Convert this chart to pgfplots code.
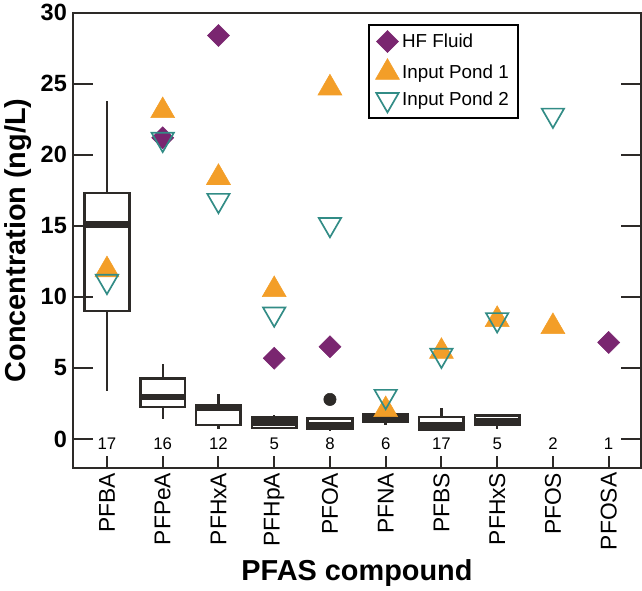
\documentclass[border=0pt]{standalone}
\usepackage{pgfplots}
\pgfplotsset{compat=1.18}
\usepgfplotslibrary{statistics}
\usepackage{pgfplotstable}
\usepackage{fontspec}
\setmainfont{Liberation Sans}

\definecolor{hf}{RGB}{122,38,112}
\definecolor{pondA}{RGB}{243,158,40}
\definecolor{pondB}{RGB}{50,140,134}
\definecolor{boxc}{RGB}{45,42,40}

% single-sample concentrations (ng/L); x = compound index
\pgfplotstableread{
x y
1 21.2
2 28.4
3 5.68
4 6.49
9 6.79
}\hffluid

\pgfplotstableread{
x y
0 11.9
1 23.1
2 18.4
3 10.5
4 24.7
5 2.05
6 6.15
7 8.4
8 7.9
}\pondone

\pgfplotstableread{
x y
0 11.1
1 21.1
2 16.8
3 8.8
4 15.1
5 3.0
6 5.9
7 8.4
8 22.8
}\pondtwo

% number of samples per compound
\pgfplotstableread{
x y n
0 -0.35 17
1 -0.35 16
2 -0.35 12
3 -0.35 5
4 -0.35 8
5 -0.35 6
6 -0.35 17
7 -0.35 5
8 -0.35 2
9 -0.35 1
}\counts

% position, lower whisker, lower quartile, median, upper quartile, upper whisker
\newcommand\bx[6]{%
  \addplot[forget plot, draw=boxc, boxplot prepared={draw position=#1,
    lower whisker=#2, lower quartile=#3, median=#4,
    upper quartile=#5, upper whisker=#6}] coordinates {};}

\begin{document}
\begin{tikzpicture}
\begin{axis}[
  scale only axis, width=423pt, height=339pt,
  xmin=-0.61, xmax=9.58, ymin=-2.05, ymax=30,
  xtick={0,...,9},
  xticklabels={PFBA,PFPeA,PFHxA,PFHpA,PFOA,PFNA,PFBS,PFHxS,PFOS,PFOSA},
  ytick={0,5,...,30},
  tick align=inside,
  xtick pos=left,
  ytick pos=both,
  axis line style={line width=1.5pt, draw=boxc},
  major tick style={line width=1.5pt, draw=boxc},
  xtick style={/pgfplots/major tick length=9pt},
  ytick style={/pgfplots/major tick length=15pt},
  /pgf/number format/assume math mode=true,
  yticklabel style={font=\fontsize{17.5}{19}\selectfont\bfseries, xshift=-1pt},
  xticklabel style={rotate=90, anchor=east, font=\fontsize{17}{19}\selectfont},
  xlabel={PFAS compound},
  ylabel={Concentration (ng/L)},
  xlabel style={font=\fontsize{21.5}{24}\selectfont\bfseries},
  ylabel style={font=\fontsize{21.5}{24}\selectfont\bfseries},
  boxplot/draw direction=y,
  boxplot/box extend=0.8,
  boxplot/whisker extend=0,
  boxplot/every box/.style={line width=1.9pt},
  boxplot/every median/.style={line width=4.6pt},
  boxplot/every whisker/.style={line width=1.8pt},
  legend style={at={(0.519,0.975)}, anchor=north west, draw=black,
    line width=1.5pt, font=\fontsize{14}{16}\selectfont,
    row sep=4.5pt, inner xsep=5pt, inner ysep=4pt},
  legend cell align=left,
]
\bx{0}{3.4}{9.0}{15.1}{17.3}{23.8}
\bx{1}{1.37}{2.26}{2.95}{4.27}{5.3}
\bx{2}{0.73}{0.97}{2.15}{2.38}{3.14}
\bx{3}{0.7}{0.78}{1.15}{1.49}{1.67}
\bx{4}{0.55}{0.73}{0.95}{1.44}{1.44}
\bx{5}{1.0}{1.18}{1.45}{1.72}{1.72}
\bx{6}{0.57}{0.62}{0.95}{1.53}{2.19}
\bx{7}{0.73}{1.01}{1.25}{1.65}{1.65}

% PFOA outlier
\addplot[forget plot, only marks, mark=*, mark size=4.6pt, boxc] coordinates {(4,2.78)};

% sample counts
\addplot[forget plot, draw=none, mark=none, nodes near coords,
  nodes near coords align={center}, point meta=explicit symbolic,
  every node near coord/.append style={font=\fontsize{12.5}{14}\selectfont, text=black}]
  table[meta=n] {\counts};

\addplot[only marks, mark=square*, mark size=5.8pt,
  mark options={rotate=45, fill=hf, draw=hf, line width=0.4pt}] table {\hffluid};
\addlegendentry{HF Fluid}
\addplot[only marks, mark=triangle*, mark size=10.3pt,
  mark options={fill=pondA, draw=pondA, line width=0.4pt}] table {\pondone};
\addlegendentry{Input Pond 1}
\addplot[only marks, mark=triangle, mark size=9.6pt,
  mark options={rotate=180, draw=pondB, line width=1.25pt}] table {\pondtwo};
\addlegendentry{Input Pond 2}
\end{axis}
\end{tikzpicture}
\end{document}
